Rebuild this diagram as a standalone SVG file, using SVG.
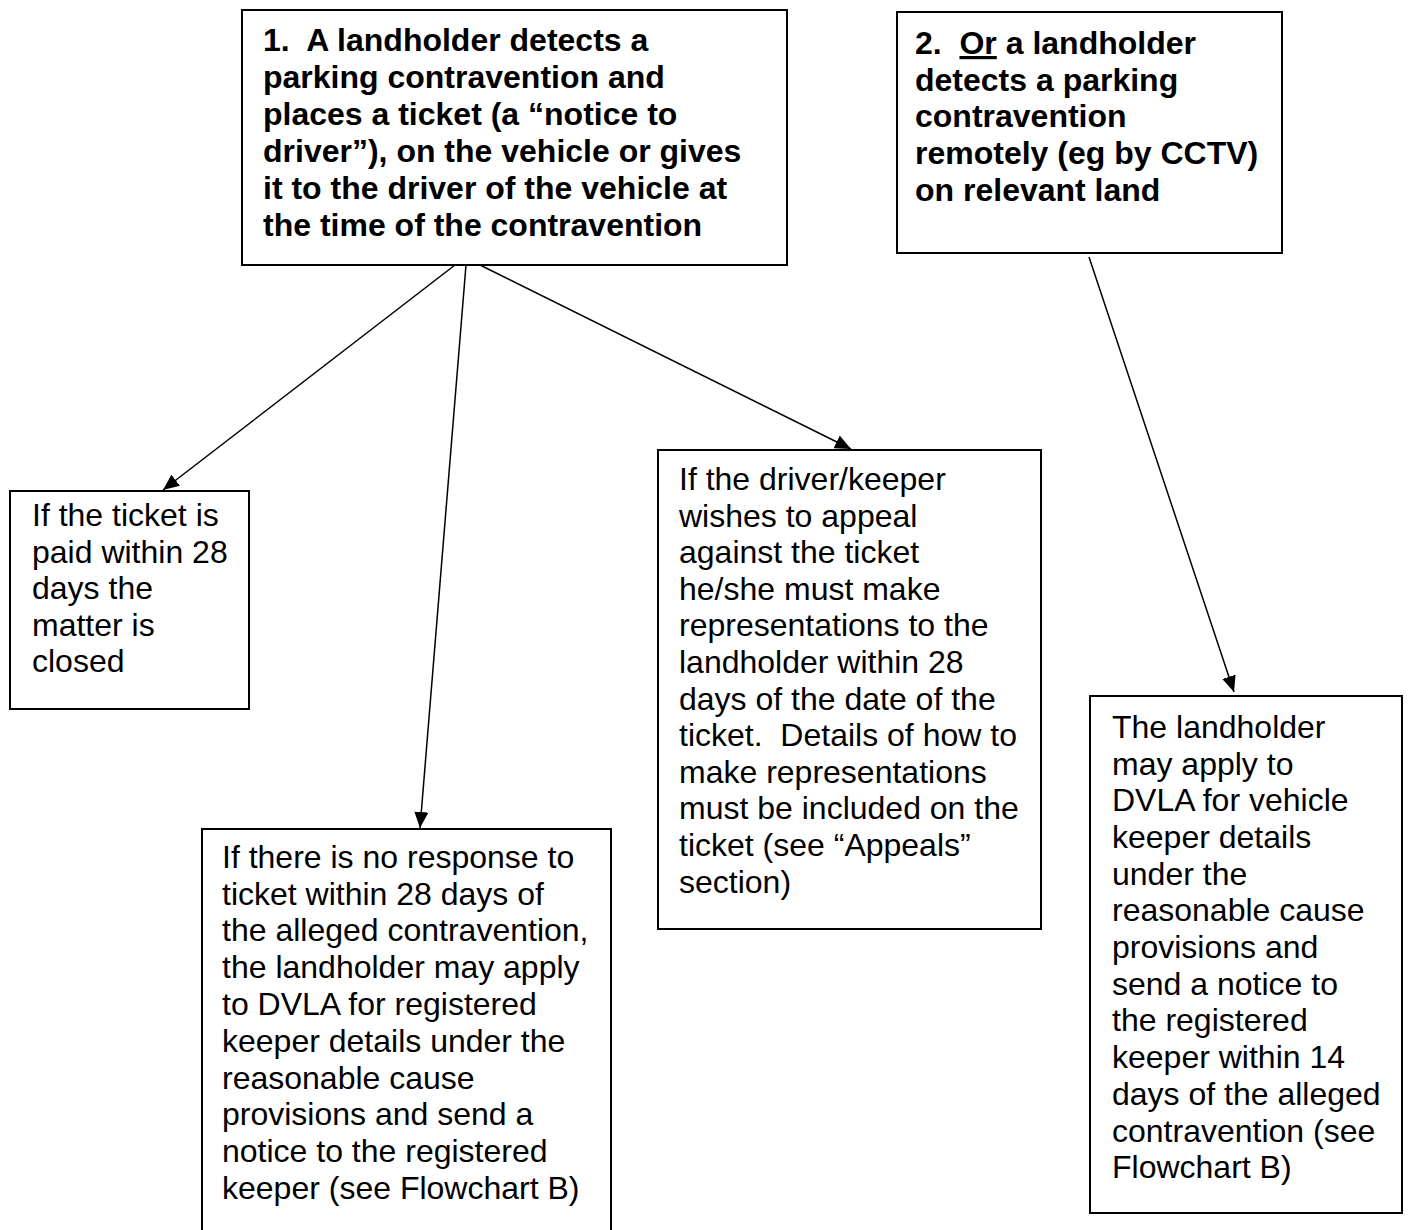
<svg xmlns="http://www.w3.org/2000/svg" width="1410" height="1230" viewBox="0 0 1410 1230">
<style>
.box{fill:#fff;stroke:#000;stroke-width:2}
.t{font-family:"Liberation Sans",Arial,sans-serif;font-size:32px;fill:#000}
.b{font-weight:bold}
.con{stroke:#000;stroke-width:1.5;fill:none;marker-end:url(#ah)}
</style>
<defs>
<marker id="ah" markerUnits="userSpaceOnUse" markerWidth="17" markerHeight="14" refX="16" refY="7" orient="auto">
<path d="M0,0 L16,7 L0,14 z" fill="#000"/>
</marker>
</defs>
<rect width="1410" height="1230" fill="#fff"/>
<g id="connectors">
<line class="con" x1="455" y1="265" x2="163" y2="490"/>
<line class="con" x1="466" y1="265" x2="420" y2="828"/>
<line class="con" x1="480" y1="265" x2="851" y2="449"/>
<line class="con" x1="1089" y1="257" x2="1234" y2="692"/>
</g>
<g id="n1">
<rect class="box" x="242" y="10" width="545" height="255"/>
<text class="t b" x="263" xml:space="preserve"><tspan x="263" y="51">1.  A landholder detects a</tspan><tspan x="263" y="88">parking contravention and</tspan><tspan x="263" y="125">places a ticket (a “notice to</tspan><tspan x="263" y="162">driver”), on the vehicle or gives</tspan><tspan x="263" y="199">it to the driver of the vehicle at</tspan><tspan x="263" y="236">the time of the contravention</tspan></text>
</g>
<g id="n2">
<rect class="box" x="897" y="12" width="385" height="241"/>
<text class="t b" xml:space="preserve"><tspan x="915" y="54">2.  </tspan><tspan text-decoration="underline">Or</tspan><tspan> a landholder</tspan><tspan x="915" y="91">detects a parking</tspan><tspan x="915" y="127">contravention</tspan><tspan x="915" y="164">remotely (eg by CCTV)</tspan><tspan x="915" y="201">on relevant land</tspan></text>
</g>
<g id="n3">
<rect class="box" x="10" y="491" width="239" height="218"/>
<text class="t"><tspan x="32" y="526">If the ticket is</tspan><tspan x="32" y="563">paid within 28</tspan><tspan x="32" y="599">days the</tspan><tspan x="32" y="636">matter is</tspan><tspan x="32" y="672">closed</tspan></text>
</g>
<g id="n4">
<rect class="box" x="202" y="829" width="409" height="420"/>
<text class="t"><tspan x="222" y="868">If there is no response to</tspan><tspan x="222" y="905">ticket within 28 days of</tspan><tspan x="222" y="941">the alleged contravention,</tspan><tspan x="222" y="978">the landholder may apply</tspan><tspan x="222" y="1015">to DVLA for registered</tspan><tspan x="222" y="1052">keeper details under the</tspan><tspan x="222" y="1089">reasonable cause</tspan><tspan x="222" y="1125">provisions and send a</tspan><tspan x="222" y="1162">notice to the registered</tspan><tspan x="222" y="1199">keeper (see Flowchart B)</tspan></text>
</g>
<g id="n5">
<rect class="box" x="658" y="450" width="383" height="479"/>
<text class="t" xml:space="preserve"><tspan x="679" y="490">If the driver/keeper</tspan><tspan x="679" y="527">wishes to appeal</tspan><tspan x="679" y="563">against the ticket</tspan><tspan x="679" y="600">he/she must make</tspan><tspan x="679" y="636">representations to the</tspan><tspan x="679" y="673">landholder within 28</tspan><tspan x="679" y="710">days of the date of the</tspan><tspan x="679" y="746">ticket.  Details of how to</tspan><tspan x="679" y="783">make representations</tspan><tspan x="679" y="819">must be included on the</tspan><tspan x="679" y="856">ticket (see “Appeals”</tspan><tspan x="679" y="893">section)</tspan></text>
</g>
<g id="n6">
<rect class="box" x="1090" y="696" width="312" height="517"/>
<text class="t"><tspan x="1112" y="738">The landholder</tspan><tspan x="1112" y="775">may apply to</tspan><tspan x="1112" y="811">DVLA for vehicle</tspan><tspan x="1112" y="848">keeper details</tspan><tspan x="1112" y="885">under the</tspan><tspan x="1112" y="921">reasonable cause</tspan><tspan x="1112" y="958">provisions and</tspan><tspan x="1112" y="995">send a notice to</tspan><tspan x="1112" y="1031">the registered</tspan><tspan x="1112" y="1068">keeper within 14</tspan><tspan x="1112" y="1105">days of the alleged</tspan><tspan x="1112" y="1142">contravention (see</tspan><tspan x="1112" y="1178">Flowchart B)</tspan></text>
</g>
</svg>
